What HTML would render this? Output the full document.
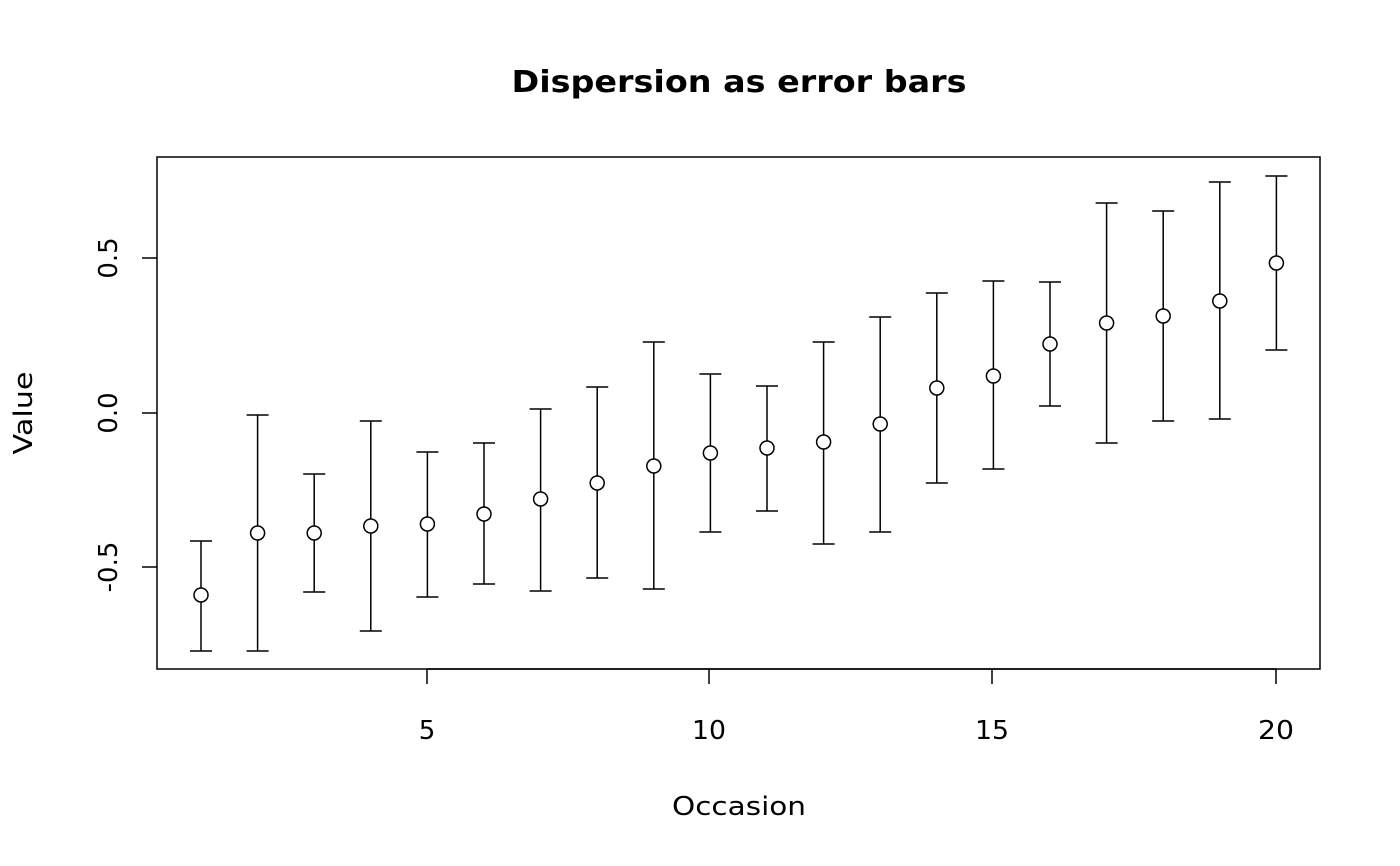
<!DOCTYPE html>
<html><head><meta charset="utf-8"><style>body{margin:0;background:#fff}svg{display:block}</style></head><body>
<svg width="1400" height="866" xmlns="http://www.w3.org/2000/svg" font-family="'DejaVu Sans','Liberation Sans',sans-serif">
<rect width="1400" height="866" fill="#fff"/>
<text x="739" y="92" text-anchor="middle" font-size="30" font-weight="bold" textLength="455" lengthAdjust="spacingAndGlyphs">Dispersion as error bars</text>
<rect x="157" y="157" width="1163" height="512" fill="none" stroke="#000" stroke-width="1.5"/>
<g stroke="#000" stroke-width="1.5">
<line x1="427" y1="669" x2="1276" y2="669"/>
<line x1="427" y1="669" x2="427" y2="684"/><line x1="709" y1="669" x2="709" y2="684"/>
<line x1="992" y1="669" x2="992" y2="684"/><line x1="1276" y1="669" x2="1276" y2="684"/>
<line x1="157" y1="258" x2="142" y2="258"/><line x1="157" y1="413" x2="142" y2="413"/><line x1="157" y1="567" x2="142" y2="567"/>
</g>
<g font-size="26" text-anchor="middle">
<text x="427" y="739">5</text><text x="709" y="739" textLength="34" lengthAdjust="spacingAndGlyphs">10</text><text x="992" y="739" textLength="34" lengthAdjust="spacingAndGlyphs">15</text><text x="1276" y="739" textLength="36" lengthAdjust="spacingAndGlyphs">20</text>
<text x="739" y="815" textLength="134" lengthAdjust="spacingAndGlyphs">Occasion</text>
<text transform="translate(117,258) rotate(-90)">0.5</text>
<text transform="translate(117,413) rotate(-90)">0.0</text>
<text transform="translate(117,567) rotate(-90)">-0.5</text>
<text transform="translate(32,413) rotate(-90)" textLength="83" lengthAdjust="spacingAndGlyphs">Value</text>
</g>
<g stroke="#000" stroke-width="1.5" fill="none">
<path d="M190 541H212M201 541V651M190 651H212"/>
<path d="M246.6 415H268.6M257.6 415V651M246.6 651H268.6"/>
<path d="M303.2 474H325.2M314.2 474V592M303.2 592H325.2"/>
<path d="M359.8 421H381.8M370.8 421V631M359.8 631H381.8"/>
<path d="M416.4 452H438.4M427.4 452V597M416.4 597H438.4"/>
<path d="M473 443H495M484 443V584M473 584H495"/>
<path d="M529.6 409H551.6M540.6 409V591M529.6 591H551.6"/>
<path d="M586.2 387H608.2M597.2 387V578M586.2 578H608.2"/>
<path d="M642.8 342H664.8M653.8 342V589M642.8 589H664.8"/>
<path d="M699.4 374H721.4M710.4 374V532M699.4 532H721.4"/>
<path d="M756 386H778M767 386V511M756 511H778"/>
<path d="M812.6 342H834.6M823.6 342V544M812.6 544H834.6"/>
<path d="M869.2 317H891.2M880.2 317V532M869.2 532H891.2"/>
<path d="M925.8 293H947.8M936.8 293V483M925.8 483H947.8"/>
<path d="M982.4 281H1004.4M993.4 281V469M982.4 469H1004.4"/>
<path d="M1039 282H1061M1050 282V406M1039 406H1061"/>
<path d="M1095.6 203H1117.6M1106.6 203V443M1095.6 443H1117.6"/>
<path d="M1152.2 211H1174.2M1163.2 211V421M1152.2 421H1174.2"/>
<path d="M1208.8 182H1230.8M1219.8 182V419M1208.8 419H1230.8"/>
<path d="M1265.4 176H1287.4M1276.4 176V350M1265.4 350H1287.4"/>
</g>
<g stroke="#000" stroke-width="1.5" fill="#fff">
<circle cx="201" cy="595" r="7"/><circle cx="257.6" cy="533" r="7"/><circle cx="314.2" cy="533" r="7"/>
<circle cx="370.8" cy="526" r="7"/><circle cx="427.4" cy="524" r="7"/><circle cx="484" cy="514" r="7"/>
<circle cx="540.6" cy="499" r="7"/><circle cx="597.2" cy="483" r="7"/><circle cx="653.8" cy="466" r="7"/>
<circle cx="710.4" cy="453" r="7"/><circle cx="767" cy="448" r="7"/><circle cx="823.6" cy="442" r="7"/>
<circle cx="880.2" cy="424" r="7"/><circle cx="936.8" cy="388" r="7"/><circle cx="993.4" cy="376" r="7"/>
<circle cx="1050" cy="344" r="7"/><circle cx="1106.6" cy="323" r="7"/><circle cx="1163.2" cy="316" r="7"/>
<circle cx="1219.8" cy="301" r="7"/><circle cx="1276.4" cy="263" r="7"/>
</g>
</svg>
</body></html>
